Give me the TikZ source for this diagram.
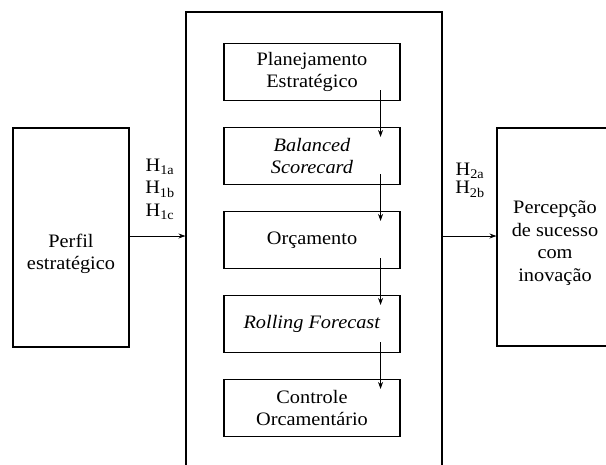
\documentclass[tikz,border=0pt]{standalone}
\usepackage{fontspec}
\setmainfont{Liberation Serif}[FakeStretch=1.07]
\usetikzlibrary{calc,arrows.meta}
\begin{document}
\begin{tikzpicture}[x=1pt,y=-1pt,
  every node/.style={font=\fontsize{19}{22.5}\selectfont, inner sep=0pt},
  box/.style={draw, line width=1.1pt, minimum width=176pt, minimum height=57pt, align=center},
  frame/.style={draw, line width=1.1pt},
  txt/.style={align=center},
  arr/.style={line width=0.9pt, -{Stealth[length=7pt,width=5pt]}}]
\clip (0,0) rectangle (606,464);
\fill[white] (0,0) rectangle (606,464);
% outer boxes
\node[frame, minimum width=116pt, minimum height=219pt] (perfil) at (71,237.5) {};
\node[txt] (perfiltxt) at (71,254) {Perfil\\estratégico};
\node[frame, minimum width=256pt, minimum height=460pt] (main) at (314,242) {};
\node[frame, minimum width=130pt, minimum height=218pt] (perc) at (562,237) {};
\node[txt] (perctxt) at (555,243) {Percepção\\de sucesso\\com\\inovação};
% inner boxes
\node[box] (b1) at (312,72) {Planejamento\\Estratégico};
\node[box] (b2) at (312,156) {\textit{Balanced}\\\textit{Scorecard}};
\node[box] (b3) at (312,240) {Orçamento};
\node[box] (b4) at (312,324) {\textit{Rolling Forecast}};
\node[box] (b5) at (312,408) {Controle\\Orcamentário};
% vertical arrows
\foreach \a/\b in {b1/b2,b2/b3,b3/b4,b4/b5}{
  \draw[arr] ($(\a.south east)+(-20,-11)$) -- ($(\b.north east)+(-20,10)$);
}
% horizontal arrows
\draw[arr] (perfil.east |- 0,236) -- (main.west |- 0,236);
\draw[arr] (main.east |- 0,236) -- (perc.west |- 0,236);
% labels
\node[txt] (h1) at (160,189) {H\textsubscript{1a}\\H\textsubscript{1b}\\H\textsubscript{1c}};
\node[txt, font=\fontsize{19}{18.5}\selectfont] (h2) at (470,180) {H\textsubscript{2a}\\H\textsubscript{2b}};
\end{tikzpicture}
\end{document}
